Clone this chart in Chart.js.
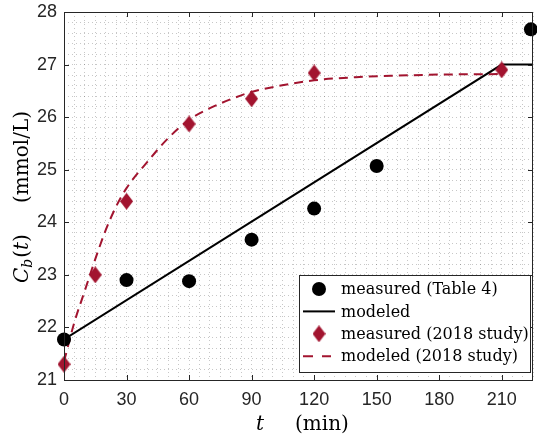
<!DOCTYPE html>
<html>
<head>
<meta charset="utf-8">
<script src="https://cdn.jsdelivr.net/npm/chart.js@4"></script>
<style>
  html, body { margin: 0; padding: 0; background: #fff; overflow: hidden; }
  body { width: 537px; height: 437px; }
</style>
</head>
<body>
<canvas id="myChart" width="540" height="437"></canvas>
<script>
// measured (Table 4)
let tableTimes = [0, 30, 60, 90, 120, 150, 224];
let tableValues = [21.77, 22.9, 22.88, 23.67, 24.26, 25.07, 27.67];
// modeled
let modelTimes = [0, 210, 225];
let modelValues = [21.77, 27.0, 27.0];
// measured (2018 study)
let studyTimes = [0, 15, 30, 60, 90, 120, 210];
let studyValues = [21.3, 23.0, 24.4, 25.87, 26.35, 26.84, 26.9];
// modeled (2018 study)
let studyModelTimes = [0, 5, 10, 15, 20, 25, 30, 40, 50, 60, 70, 80, 90, 100, 120, 140, 160, 180, 210];
let studyModelValues = [21.35, 22.1, 22.7, 23.3, 23.85, 24.3, 24.65, 25.15, 25.6, 25.95, 26.17, 26.34, 26.48, 26.57, 26.7, 26.76, 26.79, 26.81, 26.82];

let xTickLabels = [0, 30, 60, 90, 120, 150, 180, 210];
let yTickLabels = [21, 22, 23, 24, 25, 26, 27, 28];
let legendLabels = ['measured (Table 4)', 'modeled', 'measured (2018 study)', 'modeled (2018 study)'];

let red = '#A2142F';
let axisColor = '#262626';

let toPoints = (xs, ys) => xs.map((x, i) => ({x: x, y: ys[i]}));

function diamond(w, h, color) {
  let c = document.createElement('canvas');
  c.width = w; c.height = h;
  let g = c.getContext('2d');
  g.fillStyle = color;
  g.beginPath();
  g.moveTo(w / 2, 0); g.lineTo(w, h / 2); g.lineTo(w / 2, h); g.lineTo(0, h / 2);
  g.closePath();
  g.fill();
  return c;
}
let diamondImg = diamond(13, 17, red);

let frame = {
  id: 'frame',
  afterDatasetsDraw(chart) {
    let ctx = chart.ctx;
    let a = chart.chartArea;
    let xs = chart.scales.x, ys = chart.scales.y;
    ctx.save();
    // box
    ctx.strokeStyle = axisColor;
    ctx.lineWidth = 1;
    ctx.beginPath();
    ctx.moveTo(a.left + 0.5, a.top + 0.5); ctx.lineTo(a.right, a.top + 0.5);
    ctx.moveTo(a.left + 0.5, a.top); ctx.lineTo(a.left + 0.5, a.bottom + 0.5);
    ctx.moveTo(a.left, a.bottom + 0.5); ctx.lineTo(a.right, a.bottom + 0.5);
    ctx.moveTo(a.right - 0.5, a.top); ctx.lineTo(a.right - 0.5, a.bottom);
    // inward ticks
    xTickLabels.forEach(v => {
      let px = Math.round(xs.getPixelForValue(v)) + 0.5;
      ctx.moveTo(px, a.bottom); ctx.lineTo(px, a.bottom - 5);
      ctx.moveTo(px, a.top); ctx.lineTo(px, a.top + 5);
    });
    yTickLabels.forEach(v => {
      let py = Math.round(ys.getPixelForValue(v)) + 0.5;
      ctx.moveTo(a.left, py); ctx.lineTo(a.left + 5, py);
      ctx.moveTo(a.right, py); ctx.lineTo(a.right - 5, py);
    });
    ctx.stroke();

    // legend
    let lx = 299, ly = 275, lw = 231, lh = 97;
    ctx.fillStyle = '#fff';
    ctx.fillRect(lx, ly, lw, lh);
    ctx.strokeStyle = axisColor;
    ctx.strokeRect(lx + 0.5, ly + 0.5, lw, lh);
    ctx.font = '16px "DejaVu Serif"';
    ctx.textBaseline = 'middle';
    ctx.textAlign = 'left';
    let rows = [289, 311.4, 333.8, 356.2];
    rows.forEach((ry, i) => {
      ctx.fillStyle = '#000';
      ctx.fillText(legendLabels[i], 341, ry + 1);
    });
    // markers
    ctx.fillStyle = '#000';
    ctx.beginPath(); ctx.arc(319, rows[0], 7, 0, Math.PI * 2); ctx.fill();
    ctx.lineWidth = 2;
    ctx.strokeStyle = '#000';
    ctx.beginPath(); ctx.moveTo(303, rows[1]); ctx.lineTo(335, rows[1]); ctx.stroke();
    ctx.drawImage(diamondImg, 319 - 6.5, rows[2] - 8.5);
    ctx.strokeStyle = red;
    ctx.beginPath();
    ctx.moveTo(303, rows[3]); ctx.lineTo(313, rows[3]);
    ctx.moveTo(322, rows[3]); ctx.lineTo(331, rows[3]);
    ctx.stroke();

    // y title: C_b(t)   (mmol/L)
    ctx.fillStyle = '#000';
    ctx.translate(28, 283);
    ctx.rotate(-Math.PI / 2);
    ctx.textBaseline = 'alphabetic';
    let x = 0;
    ctx.font = 'italic 20px "DejaVu Serif"';
    ctx.fillText('C', x, 0); x += ctx.measureText('C').width;
    ctx.font = 'italic 14px "DejaVu Serif"';
    ctx.fillText('b', x, 4); x += ctx.measureText('b').width + 1;
    ctx.font = '20px "DejaVu Serif"';
    ctx.fillText('(', x, 0); x += ctx.measureText('(').width;
    ctx.font = 'italic 20px "DejaVu Serif"';
    ctx.fillText('t', x, 0); x += ctx.measureText('t').width;
    ctx.font = '20px "DejaVu Serif"';
    ctx.fillText(')', x, 0);
    ctx.fillText('(mmol/L)', 80, 0);
    ctx.setTransform(1, 0, 0, 1, 0, 0);

    // x title: t   (min)
    ctx.font = 'italic 20px "DejaVu Serif"';
    ctx.fillText('t', 256, 430);
    ctx.font = '20px "DejaVu Serif"';
    ctx.fillText('(min)', 295, 430);
    ctx.restore();
  }
};

let ctx = document.getElementById('myChart').getContext('2d');

let gridOpts = {color: 'rgba(0,0,0,0.22)', lineWidth: 1, drawTicks: false, tickLength: 0};

let myChart = new Chart(ctx, {
  type: 'scatter',
  data: {
    datasets: [
      {
        label: legendLabels[0],
        data: toPoints(tableTimes, tableValues),
        backgroundColor: '#000',
        borderColor: '#000',
        pointRadius: 7,
        pointBorderWidth: 0,
        clip: false,
        order: 0
      },
      {
        label: legendLabels[1],
        data: toPoints(modelTimes, modelValues),
        showLine: true,
        borderColor: '#000',
        borderWidth: 2,
        pointRadius: 0,
        order: 2
      },
      {
        label: legendLabels[2],
        data: toPoints(studyTimes, studyValues),
        pointStyle: diamondImg,
        backgroundColor: red,
        clip: false,
        order: 1
      },
      {
        label: legendLabels[3],
        data: toPoints(studyModelTimes, studyModelValues),
        showLine: true,
        borderColor: red,
        borderWidth: 2,
        borderDash: [9, 6],
        cubicInterpolationMode: 'monotone',
        pointRadius: 0,
        order: 3
      }
    ]
  },
  options: {
    responsive: false,
    animation: false,
    layout: {padding: {top: 12, right: 0, left: 0, bottom: 0}},
    plugins: {
      legend: {display: false},
      tooltip: {enabled: false}
    },
    scales: {
      x: {
        min: 0,
        max: 225,
        afterFit: (s) => { s.height = 57; s.paddingLeft = 0; s.paddingRight = 0; },
        grid: gridOpts,
        border: {display: false, dash: [1, 3]},
        ticks: {
          stepSize: 5,
          autoSkip: false,
          maxRotation: 0,
          padding: 9,
          color: axisColor,
          font: {family: '"Liberation Sans"', size: 18},
          callback: (v) => xTickLabels.includes(v) ? String(v) : ''
        }
      },
      y: {
        min: 21,
        max: 28,
        afterFit: (s) => { s.width = 64; s.paddingTop = 0; s.paddingBottom = 0; },
        grid: gridOpts,
        border: {display: false, dash: [1, 3]},
        ticks: {
          stepSize: 0.2,
          autoSkip: false,
          padding: 7,
          color: axisColor,
          font: {family: '"Liberation Sans"', size: 18},
          callback: (v) => Math.abs(v - Math.round(v)) < 1e-6 ? String(Math.round(v)) : ''
        }
      }
    }
  },
  plugins: [frame]
});
</script>
</body>
</html>
